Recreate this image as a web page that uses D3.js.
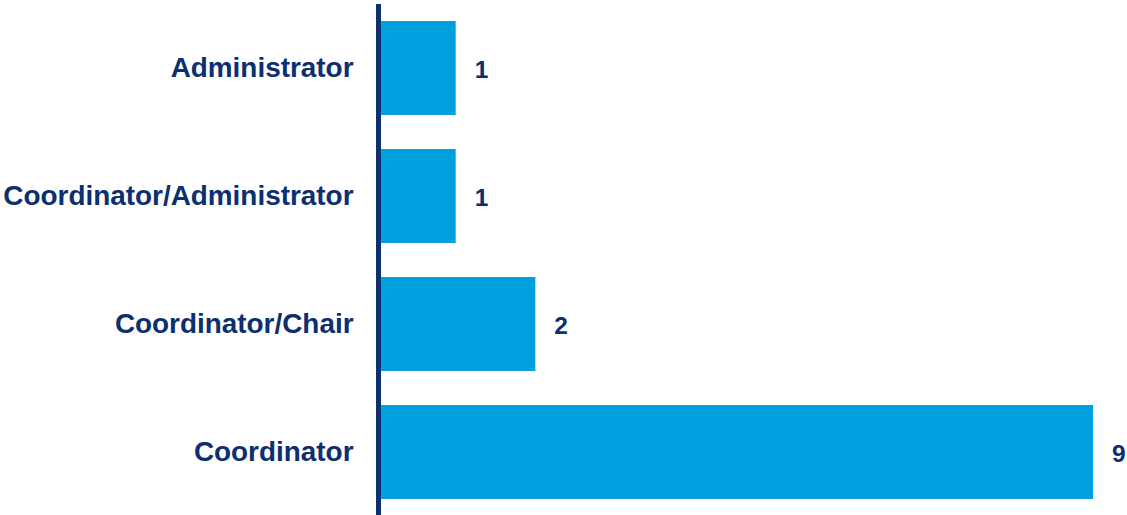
<!DOCTYPE html>
<html>
<head>
<meta charset="utf-8">
<script src="https://cdn.jsdelivr.net/npm/d3@7"></script>
<style>
  body { margin: 0; background: #fff; }
  svg text { font-family: Arial, "Liberation Sans", Helvetica, sans-serif; font-weight: bold; }
</style>
</head>
<body>
<div id="chart"></div>
<script>
// chart data
const roles = ['Administrator', 'Coordinator/Administrator', 'Coordinator/Chair', 'Coordinator'];
const counts = [1, 1, 2, 9];

const width = 1127;
const height = 515;
const navy = '#0b2f6f';
const barColor = '#009fdf';
const labelFont = 'Arial, "Liberation Sans", Helvetica, sans-serif';

const svg = d3.select('#chart')
    .append('svg')
        .attr('width', width)
        .attr('height', height);

// scales
const x = d3.scaleLinear()
    .domain([0, 9])
    .range([376, 1093]);

const y = d3.scaleBand()
    .domain(roles)
    .range([4, 516])
    .paddingInner(0.2656)
    .paddingOuter(0.1328);

// bars
svg.selectAll('.bar')
    .data(roles)
    .enter()
    .append('rect')
        .attr('class', 'bar')
        .attr('x', x(0))
        .attr('y', d => y(d))
        .attr('width', (d, i) => x(counts[i]) - x(0))
        .attr('height', y.bandwidth())
        .attr('fill', barColor);

// category axis
const axis = svg.append('g')
    .attr('transform', `translate(${x(0) + 2.5},0)`)
    .call(d3.axisLeft(y).tickSize(0).tickPadding(25));
axis.attr('font-family', labelFont);
axis.select('.domain')
    .attr('d', `M0,4V${height}`)
    .attr('stroke', navy)
    .attr('stroke-width', 5);
axis.selectAll('text')
    .attr('fill', navy)
    .attr('font-family', labelFont)
    .attr('font-weight', 'bold')
    .attr('font-size', 27.9)
    .attr('dy', '0.33em');

// value labels
svg.selectAll('.value')
    .data(roles)
    .enter()
    .append('text')
        .attr('class', 'value')
        .attr('x', (d, i) => x(counts[i]) + 19)
        .attr('y', d => y(d) + y.bandwidth() / 2)
        .attr('dy', '0.42em')
        .attr('fill', navy)
        .attr('font-family', labelFont)
        .attr('font-weight', 'bold')
        .attr('font-size', 24.5)
        .text((d, i) => counts[i]);
</script>
</body>
</html>
